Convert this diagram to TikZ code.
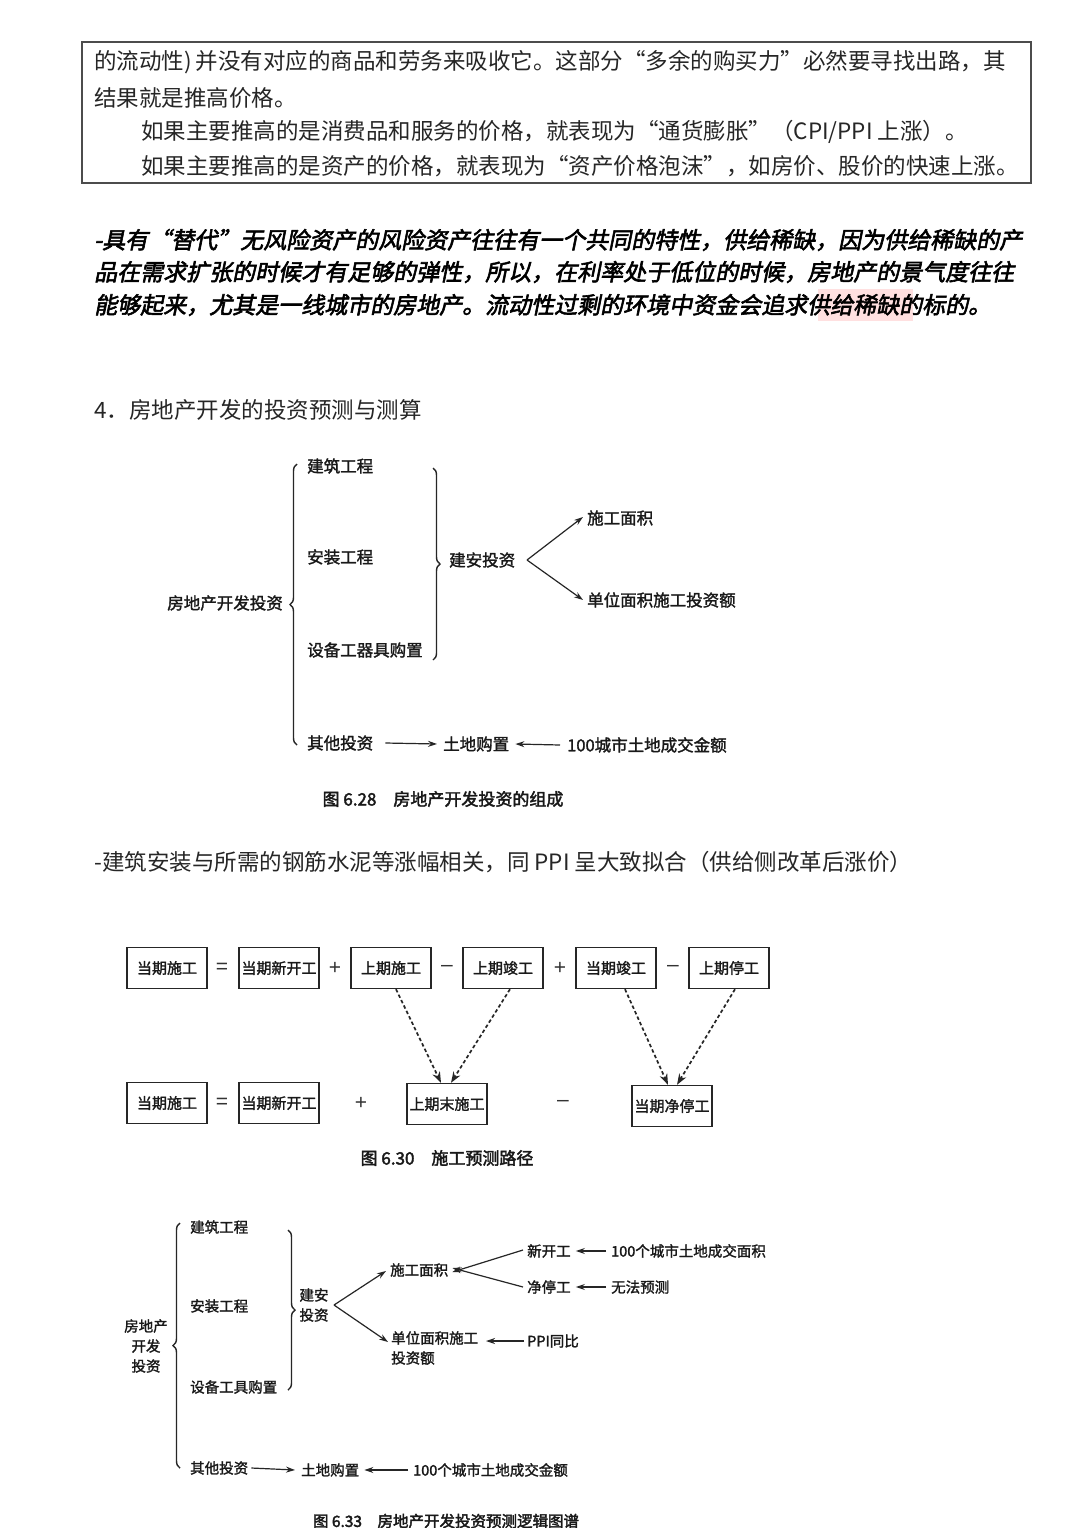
\documentclass[tikz,border=0pt]{standalone}
\usepackage{fontspec}
\setmainfont{Noto Sans CJK SC}
\newfontfamily\cjk{Noto Sans CJK SC}
\newfontfamily\cjkbi[FakeSlant=0.2,FakeBold=2.5]{Noto Sans CJK SC}
\newfontfamily\figfont[FakeBold=1.6]{Noto Sans CJK SC}
\newfontfamily\capfont[FakeBold=2.4]{Noto Sans CJK SC}
\newfontfamily\opfont{Liberation Sans}
\usetikzlibrary{decorations.pathreplacing,arrows.meta}
\tikzset{
  body/.style={anchor=west,inner sep=0pt,text=black!85,font=\cjk\fontsize{22.5}{27}\selectfont},
  bodybi/.style={anchor=west,inner sep=0pt,text=black,font=\cjkbi\fontsize{23}{28}\selectfont},
  lblA/.style={inner sep=0pt,text=black!90,font=\figfont\fontsize{16.5}{20}\selectfont},
  lblC/.style={inner sep=0pt,text=black!90,font=\figfont\fontsize{14.5}{20}\selectfont},
  capt/.style={inner sep=0pt,text=black!90,font=\capfont\fontsize{17}{20}\selectfont},
  stepbox/.style={draw=black!85,line width=1.4pt,minimum width=80pt,minimum height=41pt,inner sep=0pt,text=black!90,font=\figfont\fontsize{15}{18}\selectfont},
  opsym/.style={inner sep=0pt,text=black!80,font=\opfont\fontsize{21}{24}\selectfont},
  brcL/.style={draw=black!85,line width=1.4pt,decorate,decoration={brace,amplitude=7pt,aspect=0.5}},
  arr/.style={draw=black!85,line width=1.2pt,-{Stealth[length=9pt,width=6pt]}},
  darr/.style={draw=black!85,line width=1.7pt,dash pattern=on 3.5pt off 2.5pt,-{Stealth[length=11pt,width=8pt]}}
}
\begin{document}
\begin{tikzpicture}[x=1pt,y=-1pt]
\useasboundingbox (0,0) rectangle (1080,1528);
\clip (0,0) rectangle (1080,1528);
\fill[white] (0,0) rectangle (1080,1528);

% ---------- top box ----------
\draw[black!70,line width=1.4pt] (82,42) rectangle (1031,183);
\node[body] (t1) at (94,62) {的流动性)\,并没有对应的商品和劳务来吸收它。这部分“多余的购买力”必然要寻找出路，其};
\node[body] (t2) at (94,98) {结果就是推高价格。};
\node[body] (t3) at (141,132) {如果主要推高的是消费品和服务的价格，就表现为“通货膨胀”（CPI/PPI 上涨）。};
\node[body] (t4) at (141,166) {如果主要推高的是资产的价格，就表现为“资产价格泡沫”，如房价、股价的快速上涨。};

% ---------- bold italic paragraph ----------
\fill[red!12] (818,289) rectangle (913,321);
\node[bodybi] (p1) at (94,240) {-具有“替代”无风险资产的风险资产往往有一个共同的特性，供给稀缺，因为供给稀缺的产};
\node[bodybi] (p2) at (94,272) {品在需求扩张的时候才有足够的弹性，所以，在利率处于低位的时候，房地产的景气度往往};
\node[bodybi] (p3) at (94,305) {能够起来，尤其是一线城市的房地产。流动性过剩的环境中资金会追求供给稀缺的标的。};

\node[body] (h4) at (94,410) {4．房地产开发的投资预测与测算};

% ---------- Fig 6.28 ----------
\node[lblA,anchor=east] (A0) at (283,603) {房地产开发投资};
\node[lblA,anchor=west] (A1) at (307,466) {建筑工程};
\node[lblA,anchor=west] (A2) at (307,557) {安装工程};
\node[lblA,anchor=west] (A3) at (307,650) {设备工器具购置};
\node[lblA,anchor=west] (A4) at (307,743) {其他投资};
\draw[brcL] (297,745) -- (297,464);
\draw[brcL] (433,468) -- (433,660);
\node[lblA,anchor=west] (A5) at (449,560) {建安投资};
\coordinate (Af) at (527,560);
\node[lblA,anchor=west] (A6) at (587,518) {施工面积};
\node[lblA,anchor=west] (A7) at (587,600) {单位面积施工投资额};
\draw[arr] (Af) -- ([xshift=-4pt,yshift=1pt]A6.west);
\draw[arr] (Af) -- ([xshift=-4pt]A7.west);
\node[lblA,anchor=west] (A8) at (443,744) {土地购置};
\node[lblA,anchor=west] (A9) at (567,745) {100城市土地成交金额};
\draw[arr] ([xshift=12pt]A4.east) -- ([xshift=-6pt]A8.west);
\draw[arr] ([xshift=-7pt]A9.west) -- ([xshift=6pt]A8.east);
\node[capt] (Acap) at (443,799) {图 6.28\quad 房地产开发投资的组成};

\node[body] (ln) at (94,862) {-建筑安装与所需的钢筋水泥等涨幅相关，同 PPI 呈大致拟合（供给侧改革后涨价）};

% ---------- Fig 6.30 ----------
\node[stepbox] (B1) at (167,968) {当期施工};
\node[opsym] (Bo1) at (222,968) {=};
\node[stepbox] (B2) at (279,968) {当期新开工};
\node[opsym] (Bo2) at (335,968) {+};
\node[stepbox] (B3) at (391,968) {上期施工};
\node[opsym] (Bo3) at (447,968) {–};
\node[stepbox] (B4) at (503,968) {上期竣工};
\node[opsym] (Bo4) at (560,968) {+};
\node[stepbox] (B5) at (616,968) {当期竣工};
\node[opsym] (Bo5) at (673,968) {–};
\node[stepbox] (B6) at (729,968) {上期停工};

\node[stepbox] (C1) at (167,1103) {当期施工};
\node[opsym] (Co1) at (222,1103) {=};
\node[stepbox] (C2) at (279,1103) {当期新开工};
\node[opsym] (Co2) at (361,1103) {+};
\node[stepbox] (C3) at (447,1104) {上期末施工};
\node[opsym] (Co3) at (563,1103) {–};
\node[stepbox] (C4) at (672,1106) {当期净停工};

\draw[darr] ([xshift=5pt]B3.south) -- ([xshift=-6pt]C3.north);
\draw[darr] ([xshift=7pt]B4.south) -- ([xshift=4pt]C3.north);
\draw[darr] ([xshift=9pt]B5.south) -- ([xshift=-4pt]C4.north);
\draw[darr] ([xshift=6pt]B6.south) -- ([xshift=5pt]C4.north);
\node[capt] (Bcap) at (447,1158) {图 6.30\quad 施工预测路径};

% ---------- Fig 6.33 ----------
\node[lblC,align=center] (D0) at (146,1346) {房地产\\开发\\投资};
\node[lblC,anchor=west] (D1) at (190,1227) {建筑工程};
\node[lblC,anchor=west] (D2) at (190,1306) {安装工程};
\node[lblC,anchor=west] (D3) at (190,1387) {设备工具购置};
\node[lblC,anchor=west] (D4) at (190,1468) {其他投资};
\draw[brcL] (180,1468) -- (180,1223);
\draw[brcL] (288,1230) -- (288,1390);
\node[lblC,align=center] (D5) at (314,1305) {建安\\投资};
\coordinate (Df) at (334,1305);
\node[lblC,anchor=west] (D6) at (390,1270) {施工面积};
\node[lblC,anchor=north west,align=left] (D7) at (391,1331) {单位面积施工\\投资额};
\coordinate (D7a) at (388,1342);
\draw[arr] (Df) -- ([xshift=-4pt,yshift=-1pt]D6.west);
\draw[arr] (Df) -- (D7a);
\node[lblC,anchor=west] (D8) at (527,1251) {新开工};
\node[lblC,anchor=west] (D9) at (527,1287) {净停工};
\draw[arr] ([xshift=-4pt,yshift=1pt]D8.west) -- ([xshift=4pt,yshift=-2pt]D6.east);
\draw[arr] ([xshift=-4pt]D9.west) -- ([xshift=4pt,yshift=2pt]D6.east);
\node[lblC,anchor=west] (D10) at (611,1251) {100个城市土地成交面积};
\node[lblC,anchor=west] (D11) at (611,1287) {无法预测};
\draw[arr] ([xshift=-5pt]D10.west) -- ([xshift=5pt]D8.east);
\draw[arr] ([xshift=-5pt]D11.west) -- ([xshift=5pt]D9.east);
\node[lblC,anchor=west] (D12) at (527,1341) {PPI同比};
\coordinate (D7b) at (486,1341);
\draw[arr] ([xshift=-3pt]D12.west) -- (D7b);
\node[lblC,anchor=west] (D13) at (301,1470) {土地购置};
\node[lblC,anchor=west] (D14) at (413,1470) {100个城市土地成交金额};
\draw[arr] ([xshift=3pt]D4.east) -- ([xshift=-6pt]D13.west);
\draw[arr] ([xshift=-5pt]D14.west) -- ([xshift=5pt]D13.east);
\node[capt,font=\capfont\fontsize{15.5}{18}\selectfont] (Dcap) at (446,1521) {图 6.33\quad 房地产开发投资预测逻辑图谱};
\end{tikzpicture}
\end{document}
